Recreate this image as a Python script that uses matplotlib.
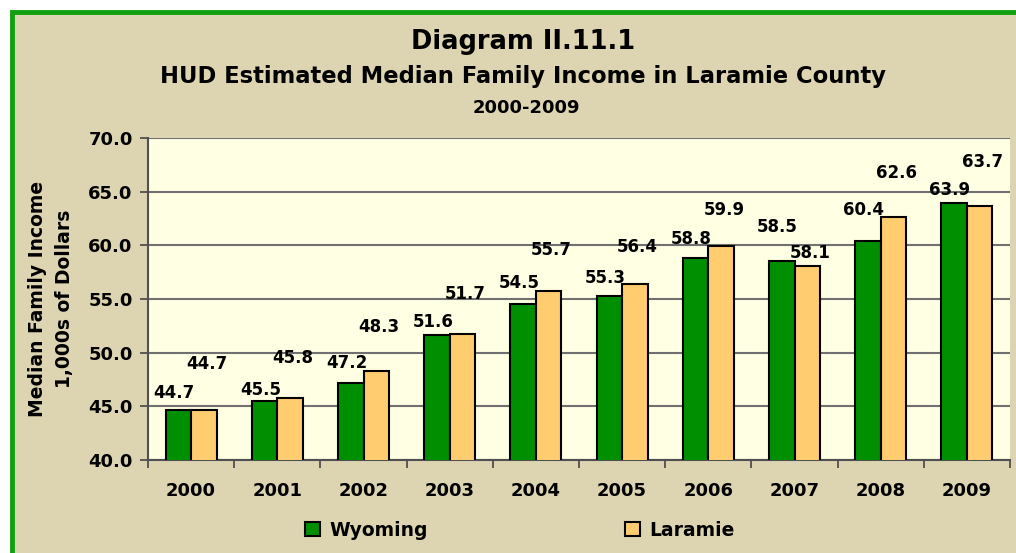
import numpy as np
import matplotlib
matplotlib.use("Agg")
import matplotlib.pyplot as plt
from matplotlib.patches import Rectangle

plt.rcParams['font.family'] = ['DejaVu Sans']
plt.rcParams['font.weight'] = 'bold'

# --- data ---
years = ['2000', '2001', '2002', '2003', '2004', '2005', '2006', '2007', '2008', '2009']
wyoming = [44.7, 45.5, 47.2, 51.6, 54.5, 55.3, 58.8, 58.5, 60.4, 63.9]
laramie = [44.7, 45.8, 48.3, 51.7, 55.7, 56.4, 59.9, 58.1, 62.6, 63.7]

# label lift above the bar top, in pixels (Excel placed them unevenly)
wy_lift = [17, 11, 20, 13, 21, 18, 19, 34, 31, 13]
la_lift = [46, 40, 44, 40, 41, 37, 36, 13, 44, 44]

bg = '#DDD5B2'
plot_bg = '#FFFFE3'
green = '#008F00'
orange = '#FFCC70'

W, H = 1016, 553
fig = plt.figure(figsize=(W / 100, H / 100), dpi=100)
fig.patch.set_facecolor('white')

# outer panel with green border, running off the right/bottom edge
fig.patches.append(Rectangle((12 / W, -0.05), 1.1, 1 - 12 / H + 0.05,
                             transform=fig.transFigure, facecolor=bg,
                             edgecolor='#10A010', linewidth=3.5, zorder=-5))

ax = fig.add_axes([148 / W, 1 - 460 / H, (1010 - 148) / W, (460 - 138) / H])
ax.set_facecolor(plot_bg)

x = np.arange(len(years))
bw = 0.296
ax.bar(x - bw / 2, wyoming, bw, color=green, edgecolor='black', linewidth=1.5,
       label='Wyoming', zorder=3)
ax.bar(x + bw / 2, laramie, bw, color=orange, edgecolor='black', linewidth=1.5,
       label='Laramie', zorder=3)

for i in range(len(years)):
    ax.annotate(f'{wyoming[i]:.1f}', (x[i] - bw / 2, wyoming[i]),
                xytext=(-3, wy_lift[i] * 0.72), textcoords='offset points',
                ha='center', va='center', fontsize=12, fontweight='bold', zorder=5)
    ax.annotate(f'{laramie[i]:.1f}', (x[i] + bw / 2, laramie[i]),
                xytext=(2, la_lift[i] * 0.72), textcoords='offset points',
                ha='center', va='center', fontsize=12, fontweight='bold', zorder=5)

ax.set_ylim(40, 70)
ax.set_xlim(-0.5, len(years) - 0.5)
ax.set_yticks(np.arange(40, 70.1, 5))
ax.set_yticklabels([f'{v:.1f}' for v in np.arange(40, 70.1, 5)])
ax.yaxis.grid(True, color='#707070', linewidth=1.5, zorder=1)
ax.set_axisbelow(True)

ax.set_xticks(x)
ax.set_xticklabels(years)
ax.set_xticks(np.arange(-0.5, len(years)), minor=True)
ax.tick_params(axis='x', which='major', length=0, pad=15.5, labelsize=13)
ax.tick_params(axis='x', which='minor', length=6, width=1.3, color='#505050', direction='out')
ax.tick_params(axis='y', length=6, width=1.3, color='#505050', labelsize=13, pad=5)
for lab in ax.get_xticklabels() + ax.get_yticklabels():
    lab.set_fontweight('bold')

for s in ['top', 'right']:
    ax.spines[s].set_visible(False)
for s in ['left', 'bottom']:
    ax.spines[s].set_color('#505050')
    ax.spines[s].set_linewidth(1.5)

ax.set_ylabel('Median Family Income\n1,000s of Dollars', fontsize=13.5,
              fontweight='bold', labelpad=10, linespacing=1.55)

fig.text(523 / W, 1 - 42 / H, 'Diagram II.11.1', ha='center', va='center',
         fontsize=18.5, fontweight='bold')
fig.text(523 / W, 1 - 77 / H, 'HUD Estimated Median Family Income in Laramie County',
         ha='center', va='center', fontsize=16.3, fontweight='bold')
fig.text(526 / W, 1 - 108 / H, '2000-2009', ha='center', va='center',
         fontsize=13, fontweight='bold')

leg = fig.legend(loc='center', bbox_to_anchor=(520 / W, 1 - 530 / H), ncol=2,
                 frameon=False, fontsize=13.5, handlelength=0.8, handleheight=0.8,
                 handletextpad=0.5, columnspacing=10.5)
for t in leg.get_texts():
    t.set_fontweight('bold')

fig.savefig('out.png', dpi=100, facecolor=fig.get_facecolor())
